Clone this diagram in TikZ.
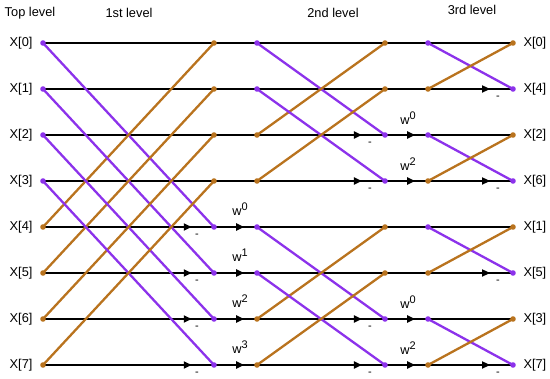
\documentclass[tikz,border=0pt]{standalone}
\usepackage{fontspec}
\setmainfont{Liberation Sans}
\usepackage{tikz}
\usetikzlibrary{arrows.meta, calc, decorations.markings}

\definecolor{fftviolet}{RGB}{140,50,235}
\definecolor{fftorange}{RGB}{185,115,30}

\newcommand{\tw}[1]{w\raisebox{5pt}{\fontsize{11}{12}\selectfont #1}}

\begin{document}
\begin{tikzpicture}[
  x=1pt, y=-1pt,
  every node/.style={font=\fontsize{12.8}{14}\selectfont},
  wire/.style={line width=2.4pt, black},
  up/.style={line width=2.3pt, fftorange},
  down/.style={line width=2.3pt, fftviolet},
  flow/.style={postaction={decorate, decoration={markings,
               mark=at position #1 with {\arrow{Triangle[length=8pt,width=7pt]}}}}},
  minus/.style={font=\fontsize{11}{12}\selectfont, inner sep=0pt},
  twiddle/.style={inner sep=1pt},
]
\useasboundingbox (0,0) rectangle (550,379);

% Level titles
\node (top) at (30,13) {Top level};
\node (first) at (129,13) {1st level};
\node (second) at (333,13) {2nd level};
\node (third) at (472,10) {3rd level};

% Points of the butterfly stages
\foreach \k in {0,...,7} {
  \pgfmathsetmacro\yy{43+46*\k}
  \coordinate (a\k) at (43,\yy);
  \coordinate (b\k) at (214,\yy);
  \coordinate (c\k) at (257,\yy);
  \coordinate (d\k) at (385,\yy);
  \coordinate (e\k) at (428,\yy);
  \coordinate (f\k) at (513,\yy);
}

% Inputs and outputs
\foreach \k in {0,...,7}
  \node[anchor=east] (in\k) at ($(a\k)+(-7,0)$) {X[\k]};
\foreach \k/\o in {0/0,1/4,2/2,3/6,4/1,5/5,6/3,7/7}
  \node[anchor=west] (out\k) at ($(f\k)+(7,0)$) {X[\o]};

% 1st level
\foreach \k in {0,...,3} {
  \draw[wire] (a\k) -- (b\k);
  \draw[wire] (b\k) -- (c\k);
}
\foreach \k/\n in {4/0,5/1,6/2,7/3} {
  \draw[wire, flow=0.87] (a\k) -- (b\k);
  \draw[wire, flow=0.70] (b\k) -- (c\k);
  \node[minus] (ma\k) at ($(b\k)+(-17,9)$) {-};
  \node[twiddle] (wa\k) at ($(b\k)+(26,-18)$) {\tw{\n}};
}
\foreach \k in {0,...,3} {
  \pgfmathtruncatemacro\m{\k+4}
  \draw[down] (a\k) -- (b\m);
  \draw[up] (a\m) -- (b\k);
}

% 2nd level
\foreach \k in {0,1,4,5} {
  \draw[wire] (c\k) -- (d\k);
  \draw[wire] (d\k) -- (e\k);
}
\foreach \k/\n in {2/0,3/2,6/0,7/2} {
  \draw[wire, flow=0.82] (c\k) -- (d\k);
  \draw[wire, flow=0.70] (d\k) -- (e\k);
  \node[minus] (mb\k) at ($(d\k)+(-15,9)$) {-};
  \node[twiddle] (wb\k) at ($(d\k)+(23,-17)$) {\tw{\n}};
}
\foreach \k in {0,1,4,5} {
  \pgfmathtruncatemacro\m{\k+2}
  \draw[down] (c\k) -- (d\m);
  \draw[up] (c\m) -- (d\k);
}

% 3rd level
\foreach \k in {0,2,4,6} {
  \pgfmathtruncatemacro\m{\k+1}
  \draw[wire] (e\k) -- (f\k);
  \draw[wire, flow=0.73] (e\m) -- (f\m);
  \node[minus] (mc\m) at ($(f\m)+(-15,9)$) {-};
  \draw[down] (e\k) -- (f\m);
  \draw[up] (e\m) -- (f\k);
}

% Dots
\foreach \p in {a0,a1,a2,a3,b4,b5,b6,b7,c0,c1,c4,c5,d2,d3,d6,d7,e0,e2,e4,e6,f1,f3,f5,f7}
  \fill[fftviolet] (\p) circle (2.8pt);
\foreach \p in {a4,a5,a6,a7,b0,b1,b2,b3,c2,c3,c6,c7,d0,d1,d4,d5,e1,e3,e5,e7,f0,f2,f4,f6}
  \fill[fftorange] (\p) circle (2.8pt);

\end{tikzpicture}
\end{document}
